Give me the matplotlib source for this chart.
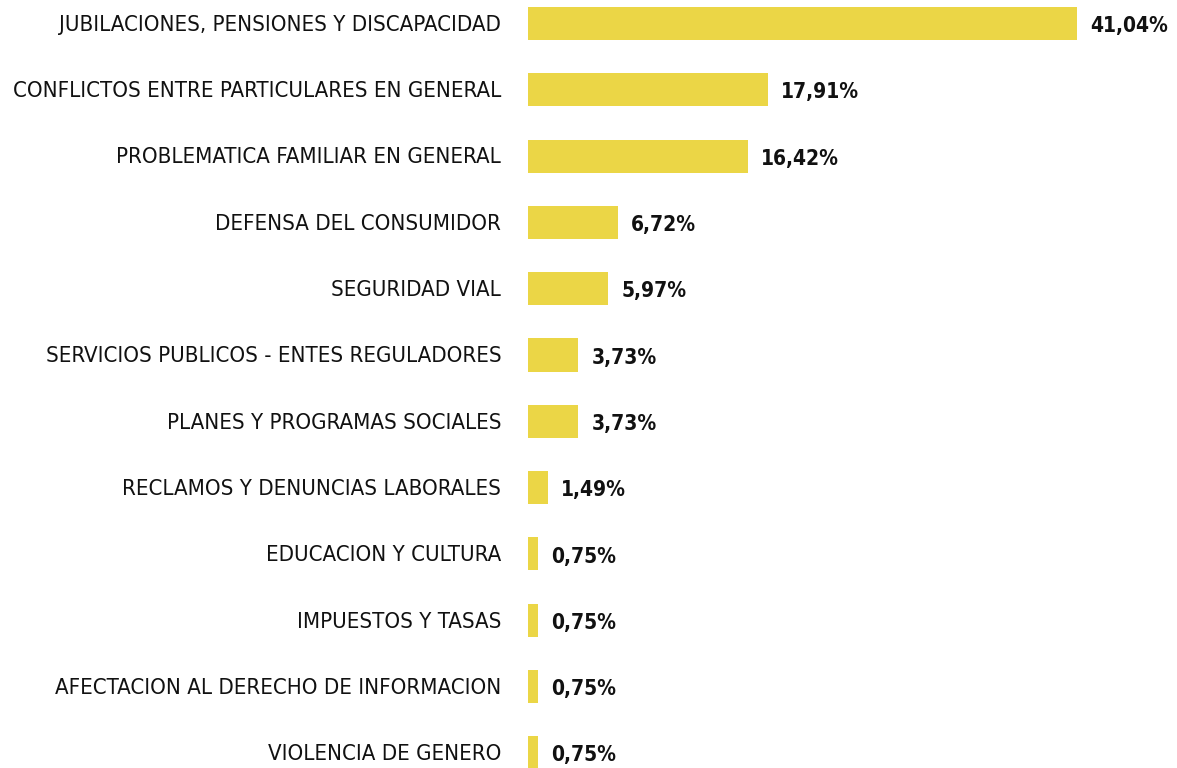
import matplotlib.pyplot as plt

categorias = [
    "JUBILACIONES, PENSIONES Y DISCAPACIDAD",
    "CONFLICTOS ENTRE PARTICULARES EN GENERAL",
    "PROBLEMATICA FAMILIAR EN GENERAL",
    "DEFENSA DEL CONSUMIDOR",
    "SEGURIDAD VIAL",
    "SERVICIOS PUBLICOS - ENTES REGULADORES",
    "PLANES Y PROGRAMAS SOCIALES",
    "RECLAMOS Y DENUNCIAS LABORALES",
    "EDUCACION Y CULTURA",
    "IMPUESTOS Y TASAS",
    "AFECTACION AL DERECHO DE INFORMACION",
    "VIOLENCIA DE GENERO",
]
porcentajes = [41.04, 17.91, 16.42, 6.72, 5.97, 3.73, 3.73, 1.49, 0.75, 0.75, 0.75, 0.75]

fam = ['DejaVu Sans', 'Liberation Sans']

fig = plt.figure(figsize=(11.77, 7.68), dpi=100)
ax = fig.add_axes([528 / 1177, 0, 1 - 528 / 1177, 1])

y = list(range(len(categorias)))
ax.barh(y, porcentajes, height=0.5, color='#ebd646')
ax.set_xlim(0, (1177 - 528) / 13.38)
ax.set_ylim((768 - 23.5) / 66.3, -23.5 / 66.3)
ax.axis('off')

etiquetas = []
valores = []
for i, (c, v) in enumerate(zip(categorias, porcentajes)):
    etiquetas.append(ax.text(-2.0, i + 0.02, c, ha='right', va='center', fontsize=19,
                             family=fam, fontstretch='condensed', color='#111111'))
    valores.append(ax.text(v + 1.0, i + 0.04, f"{v:.2f}%".replace('.', ','), ha='left', va='center',
                           fontsize=19, fontweight='bold', family=fam, fontstretch='condensed',
                           color='#111111'))

# ajustar tamaño para que el ancho se parezca al original
r = fig.canvas.get_renderer()
w = etiquetas[1].get_window_extent(r).width
s1 = 19 * 488 / w
for t in etiquetas:
    t.set_fontsize(s1)
w = valores[0].get_window_extent(r).width
s2 = 19 * 78 / w
for t in valores:
    t.set_fontsize(s2)

fig.savefig('out.png', dpi=100)
